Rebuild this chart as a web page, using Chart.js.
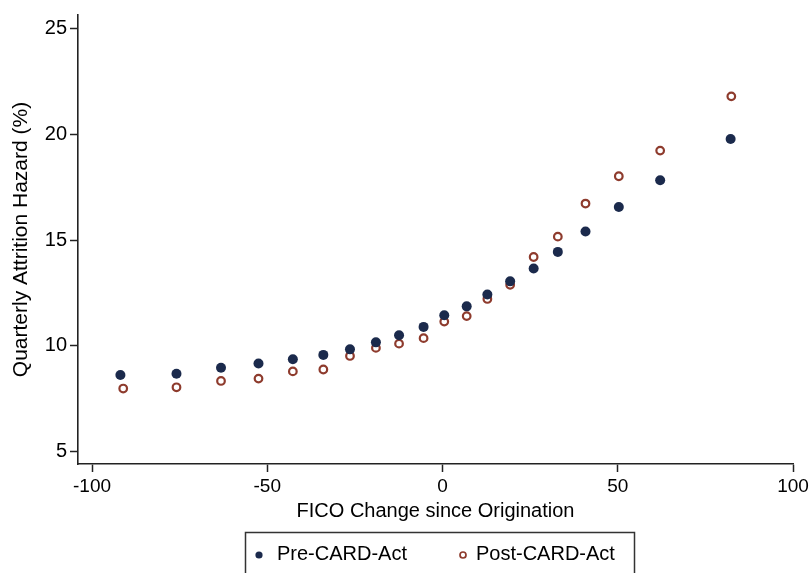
<!DOCTYPE html>
<html>
<head>
<meta charset="utf-8">
<title>Quarterly Attrition Hazard by FICO Change</title>
<script src="https://cdn.jsdelivr.net/npm/chart.js@4.4.1/dist/chart.umd.min.js"></script>
<style>
  html, body { margin: 0; padding: 0; background: #fff; }
  #wrap { width: 812px; height: 573px; position: relative; }
</style>
</head>
<body>
<div id="wrap"><canvas id="c" width="812" height="573"></canvas></div>
<script>
// FICO change bins (points) and quarterly attrition hazard (%) per period
const ficoPre = [-91.9, -75.9, -63.2, -52.5, -42.7, -34.0, -26.4, -19.0, -12.4, -5.4, 0.5, 6.9, 12.8, 19.3, 26.0, 32.9, 40.8, 50.3, 62.1, 82.2];
const hazardPre = [8.63, 8.69, 8.97, 9.17, 9.37, 9.58, 9.84, 10.17, 10.51, 10.90, 11.45, 11.87, 12.43, 13.05, 13.66, 14.44, 15.40, 16.56, 17.82, 19.77];
const ficoPost = [-91.1, -75.9, -63.2, -52.5, -42.7, -34.0, -26.4, -19.0, -12.4, -5.4, 0.5, 6.9, 12.8, 19.3, 26.0, 32.9, 40.8, 50.3, 62.1, 82.4];
const hazardPost = [7.99, 8.05, 8.35, 8.46, 8.80, 8.89, 9.53, 9.91, 10.11, 10.37, 11.15, 11.41, 12.22, 12.89, 14.20, 15.16, 16.72, 18.01, 19.22, 21.78];

const seriesLabels = ['Pre-CARD-Act', 'Post-CARD-Act'];
const xTicks = [-100, -50, 0, 50, 100];
const yTicks = [5, 10, 15, 20, 25];

const FONT = '"Liberation Sans", Arial, Helvetica, sans-serif';
const NAVY = '#1b2a4c';
const RUST = '#8e3b2d';
const INK = '#000000';

const toPoints = (xs, ys) => xs.map((x, i) => ({ x: x, y: ys[i] }));

// white page behind the plot
const whiteBg = {
  id: 'whiteBg',
  beforeDraw(chart) {
    const { ctx, width, height } = chart;
    ctx.save();
    ctx.fillStyle = '#fff';
    ctx.fillRect(0, 0, width, height);
    ctx.restore();
  }
};

// boxed legend centred under the axis title
const boxLegend = {
  id: 'boxLegend',
  afterDraw(chart) {
    const { ctx } = chart;
    const ds = chart.data.datasets;
    ctx.save();
    ctx.strokeStyle = '#333';
    ctx.lineWidth = 1.5;
    ctx.strokeRect(245.5, 532.5, 389, 46);
    ctx.font = '20px ' + FONT;
    ctx.textBaseline = 'middle';
    const cy = 554;
    // filled marker
    ctx.beginPath();
    ctx.arc(259, cy + 1, 3.6, 0, Math.PI * 2);
    ctx.fillStyle = ds[0].backgroundColor;
    ctx.fill();
    ctx.fillStyle = INK;
    ctx.fillText(ds[0].label, 277, cy);
    // hollow marker
    ctx.beginPath();
    ctx.arc(463, cy + 1, 3, 0, Math.PI * 2);
    ctx.strokeStyle = ds[1].borderColor;
    ctx.lineWidth = 1.7;
    ctx.stroke();
    ctx.fillStyle = INK;
    ctx.fillText(ds[1].label, 476, cy);
    ctx.restore();
  }
};

new Chart(document.getElementById('c'), {
  type: 'scatter',
  data: {
    datasets: [
      {
        label: seriesLabels[0],
        data: toPoints(ficoPre, hazardPre),
        backgroundColor: NAVY,
        borderColor: NAVY,
        borderWidth: 0,
        pointRadius: 5,
        pointHoverRadius: 5
      },
      {
        label: seriesLabels[1],
        data: toPoints(ficoPost, hazardPost),
        backgroundColor: '#ffffff',
        borderColor: RUST,
        borderWidth: 2.2,
        pointRadius: 3.8,
        pointHoverRadius: 3.8
      }
    ]
  },
  options: {
    responsive: false,
    animation: false,
    events: [],
    layout: { padding: { top: 10, right: 19, bottom: 0, left: 0 } },
    plugins: {
      legend: { display: false },
      tooltip: { enabled: false }
    },
    scales: {
      x: {
        type: 'linear',
        min: -104,
        max: 100,
        afterBuildTicks(scale) { scale.ticks = xTicks.map(v => ({ value: v })); },
        afterFit(scale) { scale.height = 109; },
        grid: { drawOnChartArea: false, drawTicks: true, tickLength: 8, tickColor: '#222', tickWidth: 1.5 },
        border: { display: true, color: '#222', width: 1.6 },
        ticks: { color: INK, font: { family: FONT, size: 19 }, padding: 3, maxRotation: 0 },
        title: {
          display: true,
          text: 'FICO Change since Origination',
          color: INK,
          font: { family: FONT, size: 20 },
          padding: { top: 0, bottom: 50 }
        }
      },
      y: {
        type: 'linear',
        min: 4.43,
        max: 25.62,
        afterBuildTicks(scale) { scale.ticks = yTicks.map(v => ({ value: v })); },
        afterFit(scale) { scale.width = 78; },
        grid: { drawOnChartArea: false, drawTicks: true, tickLength: 8, tickColor: '#222', tickWidth: 1.5 },
        border: { display: true, color: '#222', width: 1.6 },
        ticks: { color: INK, font: { family: FONT, size: 20 }, padding: 3 },
        title: {
          display: true,
          text: 'Quarterly Attrition Hazard (%)',
          color: INK,
          font: { family: FONT, size: 21 },
          padding: { top: 9, bottom: 0 }
        }
      }
    }
  },
  plugins: [whiteBg, boxLegend]
});
</script>
</body>
</html>
